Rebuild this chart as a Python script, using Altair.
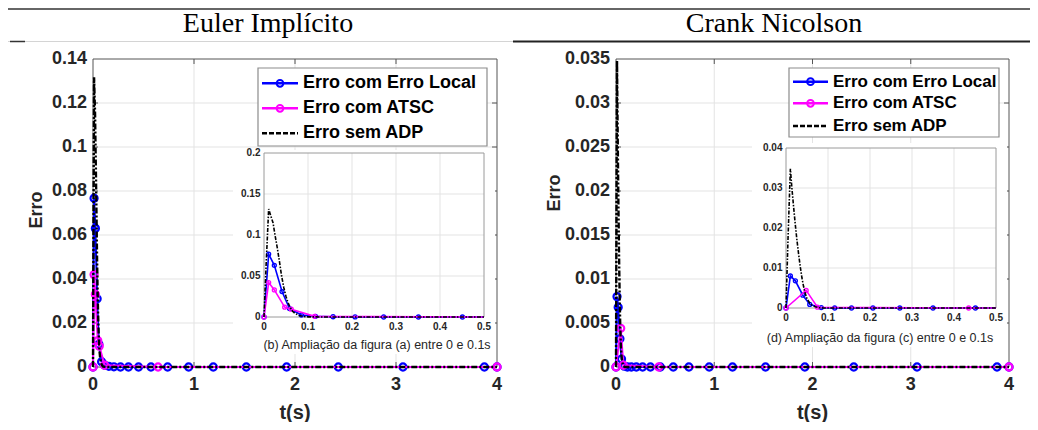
import altair as alt
import pandas as pd

# ------------------------------------------------------------------ data
# Euler Implícito (left panel)
EI_T_LOCAL = [0, 0.0106, 0.0235, 0.041, 0.058, 0.085, 0.117, 0.157, 0.207, 0.272,
              0.351, 0.451, 0.574, 0.739, 0.947, 1.191, 1.518, 1.917, 2.429, 3.069, 3.875, 4.0]
EI_E_LOCAL = [0, 0.0767, 0.0630, 0.0310, 0.0103, 0.0024, 0.0008, 0.0003, 0.0001, 0,
              0, 0, 0, 0, 0, 0, 0, 0, 0, 0, 0, 0]
EI_T_ATSC = [0, 0.0106, 0.0235, 0.047, 0.062, 0.115, 0.644, 4.0]
EI_E_ATSC = [0, 0.0420, 0.0330, 0.0120, 0.0095, 0.0008, 0, 0]
EI_T_SEM = [0, 0.005, 0.0106, 0.015, 0.0205, 0.025, 0.03, 0.035, 0.04, 0.045, 0.05, 0.055,
            0.06, 0.065, 0.07, 0.08, 0.09, 0.1, 0.12, 0.15, 0.2, 0.3, 0.5, 1.0, 2.0, 3.0, 4.0]
EI_E_SEM = [0, 0.066, 0.1317, 0.124, 0.115, 0.100, 0.085, 0.068, 0.050, 0.036, 0.025, 0.017,
            0.011, 0.007, 0.0045, 0.0018, 0.0007, 0.0002, 0.0001, 0, 0, 0, 0, 0, 0, 0, 0]

# Crank Nicolson (right panel)
CN_T_LOCAL = [0, 0.0104, 0.0223, 0.040, 0.0565, 0.084, 0.116, 0.156, 0.207, 0.271,
              0.350, 0.451, 0.583, 0.742, 0.949, 1.186, 1.522, 1.922, 2.42, 3.064, 3.878, 4.0]
CN_E_LOCAL = [0, 0.0080, 0.0068, 0.0032, 0.0009, 0.0001, 0, 0, 0, 0,
              0, 0, 0, 0, 0, 0, 0, 0, 0, 0, 0, 0]
CN_T_ATSC = [0, 0.048, 0.075, 0.435, 4.0]
CN_E_ATSC = [0, 0.0044, 0.0002, 0, 0]
CN_T_SEM = [0, 0.005, 0.0104, 0.014, 0.018, 0.022, 0.026, 0.030, 0.034, 0.038, 0.042, 0.046,
            0.050, 0.056, 0.062, 0.070, 0.078, 0.09, 0.1, 0.2, 0.5, 1.0, 2.0, 3.0, 4.0]
CN_E_SEM = [0, 0.018, 0.0348, 0.0300, 0.0254, 0.0210, 0.0170, 0.0135, 0.0103, 0.0075, 0.0053,
            0.0036, 0.0023, 0.0013, 0.0007, 0.0003, 0.0001, 0, 0, 0, 0, 0, 0, 0, 0]

LEGEND_LABELS = ["Erro com Erro Local", "Erro com ATSC", "Erro sem ADP"]
PANEL_TITLES = ["Euler Implícito", "Crank Nicolson"]
INSET_CAPTIONS = ["(b) Ampliação da figura (a) entre 0 e 0.1s",
                  "(d) Ampliação da figura (c) entre 0 e 0.1s"]
X_TITLE = "t(s)"
Y_TITLE = "Erro"
X_TICKS = [0, 1, 2, 3, 4]
EI_Y_TICKS = [0, 0.02, 0.04, 0.06, 0.08, 0.1, 0.12, 0.14]
CN_Y_TICKS = [0, 0.005, 0.01, 0.015, 0.02, 0.025, 0.03, 0.035]
INSET_X_TICKS = [0, 0.1, 0.2, 0.3, 0.4, 0.5]
EI_INSET_Y_TICKS = [0, 0.05, 0.1, 0.15, 0.2]
CN_INSET_Y_TICKS = [0, 0.01, 0.02, 0.03, 0.04]

# ------------------------------------------------------------------ style / layout
FONT = "Liberation Sans"
SERIF = "Liberation Serif"
TXT = "#262626"
BLUE = "#0000ff"
MAG = "#ff00ff"
BLK = "#000000"
GRID = "#e3e3e3"
FRAME = "#555555"
W, H, OFF = 1022, 414, 8
DUMMY = pd.DataFrame({"k": [0]})


def px(v):
    return v - OFF


PANELS = [
    dict(local=(EI_T_LOCAL, EI_E_LOCAL), atsc=(EI_T_ATSC, EI_E_ATSC), sem=(EI_T_SEM, EI_E_SEM),
         xdom=[0, 4], ydom=[0, 0.14], xticks=X_TICKS, yticks=EI_Y_TICKS,
         main_box=(93, 497, 59, 367), ytitle=(37, 210),
         inset_box=(264, 484, 153, 317), inset_ydom=[0, 0.2], inset_yticks=EI_INSET_Y_TICKS,
         white_box=(233, 495, 150, 354), caption=INSET_CAPTIONS[0], cap_xy=(377, 345),
         inset_lab_dy=10,
         leg_box=(258, 487, 68, 146), leg_rows=[83.3, 108.3, 133.3],
         leg_line=(262, 298), leg_text=303, leg_font=18),
    dict(local=(CN_T_LOCAL, CN_E_LOCAL), atsc=(CN_T_ATSC, CN_E_ATSC), sem=(CN_T_SEM, CN_E_SEM),
         xdom=[0, 4], ydom=[0, 0.035], xticks=X_TICKS, yticks=CN_Y_TICKS,
         main_box=(616, 1009, 59, 367), ytitle=(555, 193),
         inset_box=(786, 996, 148, 308), inset_ydom=[0, 0.04], inset_yticks=CN_INSET_Y_TICKS,
         white_box=(752, 1007, 143, 347), caption=INSET_CAPTIONS[1], cap_xy=(880, 338),
         inset_lab_dy=9.5,
         leg_box=(789, 999, 68, 137), leg_rows=[81.7, 103.3, 126.0],
         leg_line=(793, 828), leg_text=833, leg_font=17),
]


def sdf(pair):
    return pd.DataFrame({"t": pair[0], "e": pair[1]})


def mk_xy(xs, ys):
    def X(f):
        return alt.X(f, scale=xs, axis=None)

    def Y(f):
        return alt.Y(f, scale=ys, axis=None)
    return X, Y


def series_layers(cfg, xs, ys, lw, blw, msize, mstroke, dash, inset=False):
    X, Y = mk_xy(xs, ys)
    out = []
    for key, col in (("local", BLUE), ("atsc", MAG)):
        d = sdf(cfg[key])
        out.append(alt.Chart(d).mark_line(color=col, strokeWidth=lw).encode(x=X("t:Q"), y=Y("e:Q")))
        p = alt.Chart(d)
        if inset:
            p = p.transform_filter("datum.t <= 0.5")
        out.append(p.mark_point(shape="circle", filled=False, color=col, size=msize,
                                strokeWidth=mstroke, opacity=1).encode(x=X("t:Q"), y=Y("e:Q")))
    out.append(alt.Chart(sdf(cfg["sem"])).mark_line(color=BLK, strokeWidth=blw, strokeDash=dash).encode(
        x=X("t:Q"), y=Y("e:Q")))
    return out


def grid_layers(xs, ys, xdom, ydom, xticks, yticks, color, ticks_box=None):
    X, Y = mk_xy(xs, ys)
    xin, yin = xticks[1:-1], yticks[1:-1]
    gx = pd.DataFrame({"v": xin, "a": [ydom[0]] * len(xin), "b": [ydom[1]] * len(xin)})
    gy = pd.DataFrame({"v": yin, "a": [xdom[0]] * len(yin), "b": [xdom[1]] * len(yin)})
    out = [
        alt.Chart(gx).mark_rule(color=color, strokeWidth=1).encode(x=X("v:Q"), y=Y("a:Q"), y2="b:Q"),
        alt.Chart(gy).mark_rule(color=color, strokeWidth=1).encode(y=Y("v:Q"), x=X("a:Q"), x2="b:Q"),
    ]
    if ticks_box is not None:
        L, R, T, B = ticks_box
        out += [
            alt.Chart(gx).mark_rule(color=FRAME).encode(x=X("v:Q"), y=alt.value(px(B)), y2=alt.value(px(B) - 5)),
            alt.Chart(gx).mark_rule(color=FRAME).encode(x=X("v:Q"), y=alt.value(px(T)), y2=alt.value(px(T) + 5)),
            alt.Chart(gy).mark_rule(color=FRAME).encode(y=Y("v:Q"), x=alt.value(px(L)), x2=alt.value(px(L) + 5)),
            alt.Chart(gy).mark_rule(color=FRAME).encode(y=Y("v:Q"), x=alt.value(px(R)), x2=alt.value(px(R) - 5)),
        ]
    return out


def label_layers(xs, ys, xticks, yticks, x_lab_y, y_lab_x, size, weight="bold"):
    X, Y = mk_xy(xs, ys)
    tx = pd.DataFrame({"v": xticks})
    ty = pd.DataFrame({"v": yticks})
    return [
        alt.Chart(tx).mark_text(align="center", baseline="middle", font=FONT, fontSize=size,
                                fontWeight=weight, color=TXT).encode(
            x=X("v:Q"), y=alt.value(px(x_lab_y)), text=alt.Text("v:Q", format="~g")),
        alt.Chart(ty).mark_text(align="right", baseline="middle", font=FONT, fontSize=size,
                                fontWeight=weight, color=TXT).encode(
            y=Y("v:Q"), x=alt.value(px(y_lab_x)), text=alt.Text("v:Q", format="~g")),
    ]


def frame_layer(xs, ys, xdom, ydom, color, width):
    X, Y = mk_xy(xs, ys)
    box = pd.DataFrame({"x0": [xdom[0]], "x1": [xdom[1]], "y0": [ydom[0]], "y1": [ydom[1]]})
    return alt.Chart(box).mark_rect(fillOpacity=0, stroke=color, strokeWidth=width).encode(
        x=X("x0:Q"), x2="x1:Q", y=Y("y0:Q"), y2="y1:Q")


def text_at(txt, x, y, size, weight="normal", font=FONT, color=TXT, align="center", angle=0):
    kw = dict(align=align, baseline="middle", font=font, fontSize=size, fontWeight=weight, color=color)
    if angle:
        kw["angle"] = angle
    return alt.Chart(DUMMY).mark_text(**kw).encode(
        x=alt.value(px(x)), y=alt.value(px(y)), text=alt.value(txt))


def build_panel(cfg):
    # ---- main plot
    L, R, T, B = cfg["main_box"]
    xs = alt.Scale(domain=cfg["xdom"], range=[px(L), px(R)], nice=False, zero=False)
    ys = alt.Scale(domain=cfg["ydom"], range=[px(B), px(T)], nice=False, zero=False)
    main = alt.layer(
        *grid_layers(xs, ys, cfg["xdom"], cfg["ydom"], cfg["xticks"], cfg["yticks"], GRID, cfg["main_box"]),
        frame_layer(xs, ys, cfg["xdom"], cfg["ydom"], FRAME, 1),
        *label_layers(xs, ys, cfg["xticks"], cfg["yticks"], B + 18, L - 6, 18),
        *series_layers(cfg, xs, ys, 2, 2.4, 50, 2.2, [6, 2, 2, 2]),
    )
    titles = [
        text_at(X_TITLE, (L + R) / 2, 413, 20, "bold"),
        text_at(Y_TITLE, cfg["ytitle"][0], cfg["ytitle"][1], 18, "bold", angle=270),
    ]

    # ---- inset
    iL, iR, iT, iB = cfg["inset_box"]
    ixdom = [INSET_X_TICKS[0], INSET_X_TICKS[-1]]
    ixs = alt.Scale(domain=ixdom, range=[px(iL), px(iR)], nice=False, zero=False, clamp=True)
    iys = alt.Scale(domain=cfg["inset_ydom"], range=[px(iB), px(iT)], nice=False, zero=False, clamp=True)
    wL, wR, wT, wB = cfg["white_box"]
    white = alt.Chart(DUMMY).mark_rect(fill="white", strokeWidth=0).encode(
        x=alt.value(px(wL)), x2=alt.value(px(wR)), y=alt.value(px(wT)), y2=alt.value(px(wB)))
    inset = alt.layer(
        white,
        *grid_layers(ixs, iys, ixdom, cfg["inset_ydom"], INSET_X_TICKS, cfg["inset_yticks"], GRID),
        frame_layer(ixs, iys, ixdom, cfg["inset_ydom"], "#9a9a9a", 1),
        *label_layers(ixs, iys, INSET_X_TICKS, cfg["inset_yticks"], iB + cfg["inset_lab_dy"], iL - 3.5, 10),
        *series_layers(cfg, ixs, iys, 1.6, 1.6, 16, 1.3, [4, 1.5, 1.5, 1.5], inset=True),
    )
    cap = text_at(cfg["caption"], cfg["cap_xy"][0], cfg["cap_xy"][1], 12.5)

    # ---- legend
    bx0, bx1, by0, by1 = cfg["leg_box"]
    lx0, lx1 = cfg["leg_line"]
    leg = [alt.Chart(DUMMY).mark_rect(fill="white", stroke="#8c8c8c", strokeWidth=1.2).encode(
        x=alt.value(px(bx0)), x2=alt.value(px(bx1)), y=alt.value(px(by0)), y2=alt.value(px(by1)))]
    for i, (lab, col) in enumerate(zip(LEGEND_LABELS, [BLUE, MAG, BLK])):
        yy = px(cfg["leg_rows"][i])
        if i < 2:
            leg.append(alt.Chart(DUMMY).mark_rule(color=col, strokeWidth=2.5).encode(
                x=alt.value(px(lx0)), x2=alt.value(px(lx1)), y=alt.value(yy)))
            leg.append(alt.Chart(DUMMY).mark_point(shape="circle", filled=False, color=col, size=45,
                                                   strokeWidth=2, opacity=1).encode(
                x=alt.value(px((lx0 + lx1) / 2)), y=alt.value(yy)))
        else:
            leg.append(alt.Chart(DUMMY).mark_rule(color=col, strokeWidth=2.5, strokeDash=[5, 2]).encode(
                x=alt.value(px(lx0)), x2=alt.value(px(lx1)), y=alt.value(yy)))
        leg.append(text_at(lab, cfg["leg_text"], cfg["leg_rows"][i], cfg["leg_font"], "bold",
                           color=BLK, align="left"))
    return [main] + titles + [inset, cap] + leg


layers = []
for cfg in PANELS:
    layers += build_panel(cfg)

# ---- column headings and table rules
for title, cx in zip(PANEL_TITLES, [268, 774]):
    layers.append(alt.Chart(DUMMY).mark_text(align="center", baseline="alphabetic", font=SERIF,
                                             fontSize=28, color=BLK).encode(
        x=alt.value(px(cx)), y=alt.value(px(32)), text=alt.value(title)))
layers.append(alt.Chart(DUMMY).mark_rule(color="#666666", strokeWidth=2).encode(
    x=alt.value(0), x2=alt.value(W), y=alt.value(1)))
layers.append(alt.Chart(DUMMY).mark_rule(color="#d4d4d4", strokeWidth=1.2).encode(
    x=alt.value(0), x2=alt.value(W), y=alt.value(px(41.5))))
layers.append(alt.Chart(DUMMY).mark_rule(color="#333333", strokeWidth=1.5).encode(
    x=alt.value(px(10)), x2=alt.value(px(25)), y=alt.value(px(41.5))))
layers.append(alt.Chart(DUMMY).mark_rule(color="#222222", strokeWidth=1.8).encode(
    x=alt.value(px(513)), x2=alt.value(W), y=alt.value(px(41.5))))

chart = alt.layer(*layers).resolve_scale(x="independent", y="independent").properties(
    width=W, height=H, padding=0, autosize=alt.AutoSizeParams(type="none"), background="white"
).configure_view(strokeWidth=0)

chart.save("out.html", embed_options={"renderer": "svg", "actions": False})
